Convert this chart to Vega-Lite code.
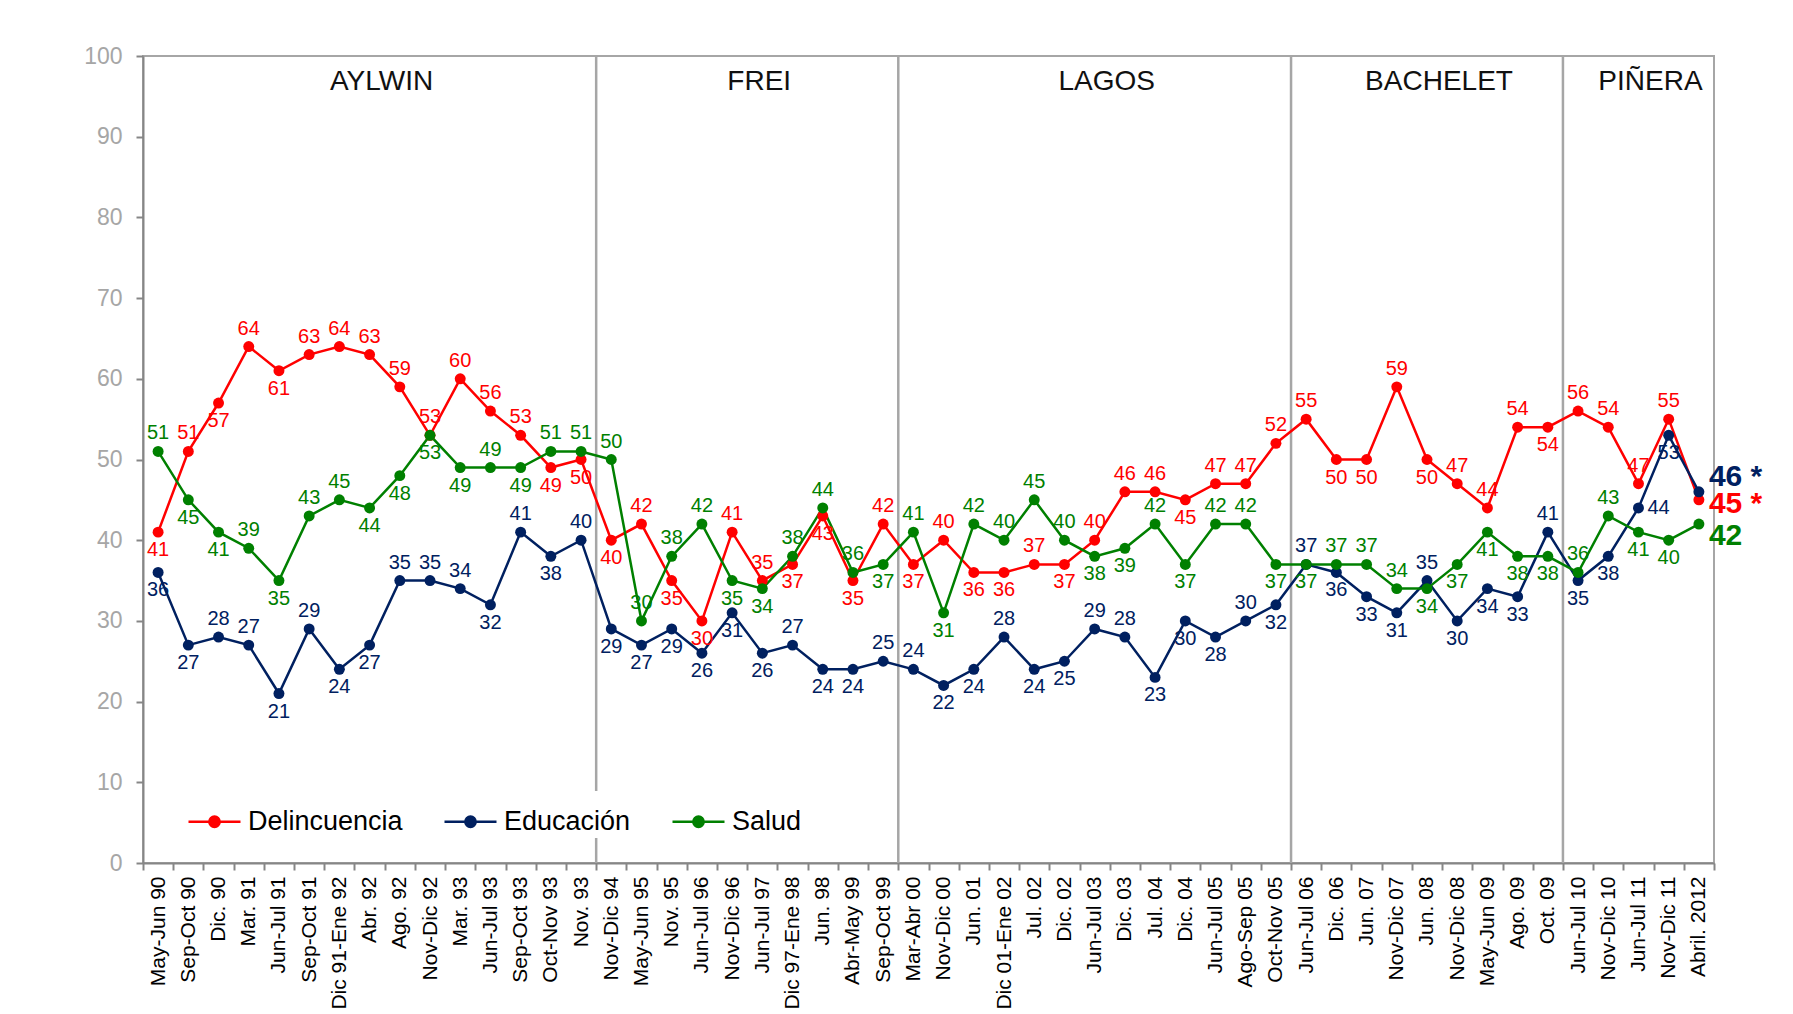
{
  "$schema": "https://vega.github.io/schema/vega-lite/v6.json",
  "width": 1571,
  "height": 807,
  "autosize": {"type": "none"},
  "padding": {"left": 143, "top": 56, "right": 79, "bottom": 151},
  "background": "white",
  "config": {
    "view": {"stroke": "#a6a6a6", "strokeWidth": 2},
    "font": "Liberation Sans",
    "legend": {
      "orient": "none",
      "legendX": 41,
      "legendY": 735,
      "direction": "horizontal",
      "title": null,
      "symbolType": "M-1,0L1,0M-0.2,0A0.2,0.2,0,1,0,0.2,0A0.2,0.2,0,1,0,-0.2,0Z",
      "symbolSize": 2704,
      "symbolStrokeWidth": 2.5,
      "labelFontSize": 27,
      "labelFont": "Liberation Sans",
      "labelColor": "black",
      "labelOffset": 6,
      "columnPadding": 36,
      "fillColor": "white",
      "padding": 3
    }
  },
  "datasets": {
    "encuesta": [
      {"n":1,"periodo":"May-Jun 90","serie":"Delincuencia","valor":41},
      {"n":2,"periodo":"Sep-Oct 90","serie":"Delincuencia","valor":51},
      {"n":3,"periodo":"Dic. 90","serie":"Delincuencia","valor":57},
      {"n":4,"periodo":"Mar. 91","serie":"Delincuencia","valor":64},
      {"n":5,"periodo":"Jun-Jul 91","serie":"Delincuencia","valor":61},
      {"n":6,"periodo":"Sep-Oct 91","serie":"Delincuencia","valor":63},
      {"n":7,"periodo":"Dic 91-Ene 92","serie":"Delincuencia","valor":64},
      {"n":8,"periodo":"Abr. 92","serie":"Delincuencia","valor":63},
      {"n":9,"periodo":"Ago. 92","serie":"Delincuencia","valor":59},
      {"n":10,"periodo":"Nov-Dic 92","serie":"Delincuencia","valor":53},
      {"n":11,"periodo":"Mar. 93","serie":"Delincuencia","valor":60},
      {"n":12,"periodo":"Jun-Jul 93","serie":"Delincuencia","valor":56},
      {"n":13,"periodo":"Sep-Oct 93","serie":"Delincuencia","valor":53},
      {"n":14,"periodo":"Oct-Nov 93","serie":"Delincuencia","valor":49},
      {"n":15,"periodo":"Nov. 93","serie":"Delincuencia","valor":50},
      {"n":16,"periodo":"Nov-Dic 94","serie":"Delincuencia","valor":40},
      {"n":17,"periodo":"May-Jun 95","serie":"Delincuencia","valor":42},
      {"n":18,"periodo":"Nov. 95","serie":"Delincuencia","valor":35},
      {"n":19,"periodo":"Jun-Jul 96","serie":"Delincuencia","valor":30},
      {"n":20,"periodo":"Nov-Dic 96","serie":"Delincuencia","valor":41},
      {"n":21,"periodo":"Jun-Jul 97","serie":"Delincuencia","valor":35},
      {"n":22,"periodo":"Dic 97-Ene 98","serie":"Delincuencia","valor":37},
      {"n":23,"periodo":"Jun. 98","serie":"Delincuencia","valor":43},
      {"n":24,"periodo":"Abr-May 99","serie":"Delincuencia","valor":35},
      {"n":25,"periodo":"Sep-Oct 99","serie":"Delincuencia","valor":42},
      {"n":26,"periodo":"Mar-Abr 00","serie":"Delincuencia","valor":37},
      {"n":27,"periodo":"Nov-Dic 00","serie":"Delincuencia","valor":40},
      {"n":28,"periodo":"Jun. 01","serie":"Delincuencia","valor":36},
      {"n":29,"periodo":"Dic 01-Ene 02","serie":"Delincuencia","valor":36},
      {"n":30,"periodo":"Jul. 02","serie":"Delincuencia","valor":37},
      {"n":31,"periodo":"Dic. 02","serie":"Delincuencia","valor":37},
      {"n":32,"periodo":"Jun-Jul 03","serie":"Delincuencia","valor":40},
      {"n":33,"periodo":"Dic. 03","serie":"Delincuencia","valor":46},
      {"n":34,"periodo":"Jul. 04","serie":"Delincuencia","valor":46},
      {"n":35,"periodo":"Dic. 04","serie":"Delincuencia","valor":45},
      {"n":36,"periodo":"Jun-Jul 05","serie":"Delincuencia","valor":47},
      {"n":37,"periodo":"Ago-Sep 05","serie":"Delincuencia","valor":47},
      {"n":38,"periodo":"Oct-Nov 05","serie":"Delincuencia","valor":52},
      {"n":39,"periodo":"Jun-Jul 06","serie":"Delincuencia","valor":55},
      {"n":40,"periodo":"Dic. 06","serie":"Delincuencia","valor":50},
      {"n":41,"periodo":"Jun. 07","serie":"Delincuencia","valor":50},
      {"n":42,"periodo":"Nov-Dic 07","serie":"Delincuencia","valor":59},
      {"n":43,"periodo":"Jun. 08","serie":"Delincuencia","valor":50},
      {"n":44,"periodo":"Nov-Dic 08","serie":"Delincuencia","valor":47},
      {"n":45,"periodo":"May-Jun 09","serie":"Delincuencia","valor":44},
      {"n":46,"periodo":"Ago. 09","serie":"Delincuencia","valor":54},
      {"n":47,"periodo":"Oct. 09","serie":"Delincuencia","valor":54},
      {"n":48,"periodo":"Jun-Jul 10","serie":"Delincuencia","valor":56},
      {"n":49,"periodo":"Nov-Dic 10","serie":"Delincuencia","valor":54},
      {"n":50,"periodo":"Jun-Jul 11","serie":"Delincuencia","valor":47},
      {"n":51,"periodo":"Nov-Dic 11","serie":"Delincuencia","valor":55},
      {"n":52,"periodo":"Abril. 2012","serie":"Delincuencia","valor":45},
      {"n":1,"periodo":"May-Jun 90","serie":"Educación","valor":36},
      {"n":2,"periodo":"Sep-Oct 90","serie":"Educación","valor":27},
      {"n":3,"periodo":"Dic. 90","serie":"Educación","valor":28},
      {"n":4,"periodo":"Mar. 91","serie":"Educación","valor":27},
      {"n":5,"periodo":"Jun-Jul 91","serie":"Educación","valor":21},
      {"n":6,"periodo":"Sep-Oct 91","serie":"Educación","valor":29},
      {"n":7,"periodo":"Dic 91-Ene 92","serie":"Educación","valor":24},
      {"n":8,"periodo":"Abr. 92","serie":"Educación","valor":27},
      {"n":9,"periodo":"Ago. 92","serie":"Educación","valor":35},
      {"n":10,"periodo":"Nov-Dic 92","serie":"Educación","valor":35},
      {"n":11,"periodo":"Mar. 93","serie":"Educación","valor":34},
      {"n":12,"periodo":"Jun-Jul 93","serie":"Educación","valor":32},
      {"n":13,"periodo":"Sep-Oct 93","serie":"Educación","valor":41},
      {"n":14,"periodo":"Oct-Nov 93","serie":"Educación","valor":38},
      {"n":15,"periodo":"Nov. 93","serie":"Educación","valor":40},
      {"n":16,"periodo":"Nov-Dic 94","serie":"Educación","valor":29},
      {"n":17,"periodo":"May-Jun 95","serie":"Educación","valor":27},
      {"n":18,"periodo":"Nov. 95","serie":"Educación","valor":29},
      {"n":19,"periodo":"Jun-Jul 96","serie":"Educación","valor":26},
      {"n":20,"periodo":"Nov-Dic 96","serie":"Educación","valor":31},
      {"n":21,"periodo":"Jun-Jul 97","serie":"Educación","valor":26},
      {"n":22,"periodo":"Dic 97-Ene 98","serie":"Educación","valor":27},
      {"n":23,"periodo":"Jun. 98","serie":"Educación","valor":24},
      {"n":24,"periodo":"Abr-May 99","serie":"Educación","valor":24},
      {"n":25,"periodo":"Sep-Oct 99","serie":"Educación","valor":25},
      {"n":26,"periodo":"Mar-Abr 00","serie":"Educación","valor":24},
      {"n":27,"periodo":"Nov-Dic 00","serie":"Educación","valor":22},
      {"n":28,"periodo":"Jun. 01","serie":"Educación","valor":24},
      {"n":29,"periodo":"Dic 01-Ene 02","serie":"Educación","valor":28},
      {"n":30,"periodo":"Jul. 02","serie":"Educación","valor":24},
      {"n":31,"periodo":"Dic. 02","serie":"Educación","valor":25},
      {"n":32,"periodo":"Jun-Jul 03","serie":"Educación","valor":29},
      {"n":33,"periodo":"Dic. 03","serie":"Educación","valor":28},
      {"n":34,"periodo":"Jul. 04","serie":"Educación","valor":23},
      {"n":35,"periodo":"Dic. 04","serie":"Educación","valor":30},
      {"n":36,"periodo":"Jun-Jul 05","serie":"Educación","valor":28},
      {"n":37,"periodo":"Ago-Sep 05","serie":"Educación","valor":30},
      {"n":38,"periodo":"Oct-Nov 05","serie":"Educación","valor":32},
      {"n":39,"periodo":"Jun-Jul 06","serie":"Educación","valor":37},
      {"n":40,"periodo":"Dic. 06","serie":"Educación","valor":36},
      {"n":41,"periodo":"Jun. 07","serie":"Educación","valor":33},
      {"n":42,"periodo":"Nov-Dic 07","serie":"Educación","valor":31},
      {"n":43,"periodo":"Jun. 08","serie":"Educación","valor":35},
      {"n":44,"periodo":"Nov-Dic 08","serie":"Educación","valor":30},
      {"n":45,"periodo":"May-Jun 09","serie":"Educación","valor":34},
      {"n":46,"periodo":"Ago. 09","serie":"Educación","valor":33},
      {"n":47,"periodo":"Oct. 09","serie":"Educación","valor":41},
      {"n":48,"periodo":"Jun-Jul 10","serie":"Educación","valor":35},
      {"n":49,"periodo":"Nov-Dic 10","serie":"Educación","valor":38},
      {"n":50,"periodo":"Jun-Jul 11","serie":"Educación","valor":44},
      {"n":51,"periodo":"Nov-Dic 11","serie":"Educación","valor":53},
      {"n":52,"periodo":"Abril. 2012","serie":"Educación","valor":46},
      {"n":1,"periodo":"May-Jun 90","serie":"Salud","valor":51},
      {"n":2,"periodo":"Sep-Oct 90","serie":"Salud","valor":45},
      {"n":3,"periodo":"Dic. 90","serie":"Salud","valor":41},
      {"n":4,"periodo":"Mar. 91","serie":"Salud","valor":39},
      {"n":5,"periodo":"Jun-Jul 91","serie":"Salud","valor":35},
      {"n":6,"periodo":"Sep-Oct 91","serie":"Salud","valor":43},
      {"n":7,"periodo":"Dic 91-Ene 92","serie":"Salud","valor":45},
      {"n":8,"periodo":"Abr. 92","serie":"Salud","valor":44},
      {"n":9,"periodo":"Ago. 92","serie":"Salud","valor":48},
      {"n":10,"periodo":"Nov-Dic 92","serie":"Salud","valor":53},
      {"n":11,"periodo":"Mar. 93","serie":"Salud","valor":49},
      {"n":12,"periodo":"Jun-Jul 93","serie":"Salud","valor":49},
      {"n":13,"periodo":"Sep-Oct 93","serie":"Salud","valor":49},
      {"n":14,"periodo":"Oct-Nov 93","serie":"Salud","valor":51},
      {"n":15,"periodo":"Nov. 93","serie":"Salud","valor":51},
      {"n":16,"periodo":"Nov-Dic 94","serie":"Salud","valor":50},
      {"n":17,"periodo":"May-Jun 95","serie":"Salud","valor":30},
      {"n":18,"periodo":"Nov. 95","serie":"Salud","valor":38},
      {"n":19,"periodo":"Jun-Jul 96","serie":"Salud","valor":42},
      {"n":20,"periodo":"Nov-Dic 96","serie":"Salud","valor":35},
      {"n":21,"periodo":"Jun-Jul 97","serie":"Salud","valor":34},
      {"n":22,"periodo":"Dic 97-Ene 98","serie":"Salud","valor":38},
      {"n":23,"periodo":"Jun. 98","serie":"Salud","valor":44},
      {"n":24,"periodo":"Abr-May 99","serie":"Salud","valor":36},
      {"n":25,"periodo":"Sep-Oct 99","serie":"Salud","valor":37},
      {"n":26,"periodo":"Mar-Abr 00","serie":"Salud","valor":41},
      {"n":27,"periodo":"Nov-Dic 00","serie":"Salud","valor":31},
      {"n":28,"periodo":"Jun. 01","serie":"Salud","valor":42},
      {"n":29,"periodo":"Dic 01-Ene 02","serie":"Salud","valor":40},
      {"n":30,"periodo":"Jul. 02","serie":"Salud","valor":45},
      {"n":31,"periodo":"Dic. 02","serie":"Salud","valor":40},
      {"n":32,"periodo":"Jun-Jul 03","serie":"Salud","valor":38},
      {"n":33,"periodo":"Dic. 03","serie":"Salud","valor":39},
      {"n":34,"periodo":"Jul. 04","serie":"Salud","valor":42},
      {"n":35,"periodo":"Dic. 04","serie":"Salud","valor":37},
      {"n":36,"periodo":"Jun-Jul 05","serie":"Salud","valor":42},
      {"n":37,"periodo":"Ago-Sep 05","serie":"Salud","valor":42},
      {"n":38,"periodo":"Oct-Nov 05","serie":"Salud","valor":37},
      {"n":39,"periodo":"Jun-Jul 06","serie":"Salud","valor":37},
      {"n":40,"periodo":"Dic. 06","serie":"Salud","valor":37},
      {"n":41,"periodo":"Jun. 07","serie":"Salud","valor":37},
      {"n":42,"periodo":"Nov-Dic 07","serie":"Salud","valor":34},
      {"n":43,"periodo":"Jun. 08","serie":"Salud","valor":34},
      {"n":44,"periodo":"Nov-Dic 08","serie":"Salud","valor":37},
      {"n":45,"periodo":"May-Jun 09","serie":"Salud","valor":41},
      {"n":46,"periodo":"Ago. 09","serie":"Salud","valor":38},
      {"n":47,"periodo":"Oct. 09","serie":"Salud","valor":38},
      {"n":48,"periodo":"Jun-Jul 10","serie":"Salud","valor":36},
      {"n":49,"periodo":"Nov-Dic 10","serie":"Salud","valor":43},
      {"n":50,"periodo":"Jun-Jul 11","serie":"Salud","valor":41},
      {"n":51,"periodo":"Nov-Dic 11","serie":"Salud","valor":40},
      {"n":52,"periodo":"Abril. 2012","serie":"Salud","valor":42}
    ],
    "cortes": [
      {"periodo": "Nov-Dic 94"},
      {"periodo": "Mar-Abr 00"},
      {"periodo": "Jun-Jul 06"},
      {"periodo": "Jun-Jul 10"}
    ],
    "presidentes": [
      {"presidente": "AYLWIN", "periodo": "Abr. 92"},
      {"presidente": "FREI", "periodo": "Jun-Jul 97"},
      {"presidente": "LAGOS", "periodo": "Jun-Jul 03"},
      {"presidente": "BACHELET", "periodo": "Jun. 08"},
      {"presidente": "PIÑERA", "periodo": "Jun-Jul 11"}
    ],
    "finales": [
      {"periodo": "Abril. 2012", "serie": "Educación", "valor": 46, "texto": "46 *"},
      {"periodo": "Abril. 2012", "serie": "Delincuencia", "valor": 45, "texto": "45 *"},
      {"periodo": "Abril. 2012", "serie": "Salud", "valor": 42, "texto": "42"}
    ]
  },
  "layer": [
    {
      "data": {"name": "cortes"},
      "mark": {"type": "rule", "color": "#a6a6a6", "strokeWidth": 2.5},
      "encoding": {
        "x": {
          "field": "periodo",
          "type": "nominal",
          "bandPosition": 0,
          "scale": {
            "type": "band",
            "paddingInner": 0,
            "paddingOuter": 0,
            "domain": ["May-Jun 90","Sep-Oct 90","Dic. 90","Mar. 91","Jun-Jul 91","Sep-Oct 91","Dic 91-Ene 92","Abr. 92","Ago. 92","Nov-Dic 92","Mar. 93","Jun-Jul 93","Sep-Oct 93","Oct-Nov 93","Nov. 93","Nov-Dic 94","May-Jun 95","Nov. 95","Jun-Jul 96","Nov-Dic 96","Jun-Jul 97","Dic 97-Ene 98","Jun. 98","Abr-May 99","Sep-Oct 99","Mar-Abr 00","Nov-Dic 00","Jun. 01","Dic 01-Ene 02","Jul. 02","Dic. 02","Jun-Jul 03","Dic. 03","Jul. 04","Dic. 04","Jun-Jul 05","Ago-Sep 05","Oct-Nov 05","Jun-Jul 06","Dic. 06","Jun. 07","Nov-Dic 07","Jun. 08","Nov-Dic 08","May-Jun 09","Ago. 09","Oct. 09","Jun-Jul 10","Nov-Dic 10","Jun-Jul 11","Nov-Dic 11","Abril. 2012"]
          },
          "axis": {
            "title": null,
            "labelAngle": -90,
            "labelFont": "Liberation Sans",
            "labelFontSize": 21,
            "labelColor": "black",
            "labelOverlap": false,
            "labelLimit": 300,
            "labelPadding": 6,
            "tickBand": "extent",
            "tickSize": 7,
            "tickWidth": 2,
            "tickColor": "#868686",
            "domainColor": "#868686",
            "domainWidth": 2,
            "grid": false
          }
        }
      }
    },
    {
      "data": {"name": "presidentes"},
      "transform": [{"filter": "datum.presidente != 'FREI'"}],
      "mark": {"type": "text", "fontSize": 28, "font": "Liberation Sans", "color": "#111111", "align": "center", "baseline": "middle", "dx": 12, "dy": 26},
      "encoding": {
        "x": {"field": "periodo", "type": "nominal", "bandPosition": 0.5},
        "y": {"datum": 100},
        "text": {"field": "presidente"}
      }
    },
    {
      "data": {"name": "presidentes"},
      "transform": [{"filter": "datum.presidente == 'FREI'"}],
      "mark": {"type": "text", "fontSize": 28, "font": "Liberation Sans", "color": "#111111", "align": "center", "baseline": "middle", "dx": 12, "dy": 26},
      "encoding": {
        "x": {"field": "periodo", "type": "nominal", "bandPosition": 0},
        "y": {"datum": 100},
        "text": {"field": "presidente"}
      }
    },
    {
      "data": {"name": "encuesta"},
      "mark": {"type": "line", "strokeWidth": 2.5},
      "encoding": {
        "x": {"field": "periodo", "type": "nominal", "bandPosition": 0.5},
        "y": {
          "field": "valor",
          "type": "quantitative",
          "scale": {"domain": [0, 100], "nice": false, "zero": true},
          "axis": {
            "title": null,
            "values": [0, 10, 20, 30, 40, 50, 60, 70, 80, 90, 100],
            "grid": false,
            "labelFont": "Liberation Sans",
            "labelFontSize": 23,
            "labelColor": "#a6a6a6",
            "labelPadding": 14,
            "tickSize": 7,
            "tickWidth": 2,
            "tickColor": "#868686",
            "domainColor": "#868686",
            "domainWidth": 2
          }
        },
        "color": {
          "field": "serie",
          "type": "nominal",
          "scale": {"domain": ["Delincuencia", "Educación", "Salud"], "range": ["#ff0000", "#002060", "#008000"]}
        },
        "detail": {"field": "serie"}
      }
    },
    {
      "data": {"name": "encuesta"},
      "mark": {"type": "point", "filled": true, "size": 120, "opacity": 1},
      "encoding": {
        "x": {"field": "periodo", "type": "nominal", "bandPosition": 0.5},
        "y": {"field": "valor", "type": "quantitative"},
        "color": {"field": "serie", "type": "nominal"}
      }
    },
    {
      "data": {"name": "encuesta"},
      "transform": [
        {
          "window": [
            {"op": "lag", "field": "valor", "param": 1, "as": "ant"},
            {"op": "lead", "field": "valor", "param": 1, "as": "sig"}
          ],
          "groupby": ["serie"],
          "sort": [{"field": "n", "order": "ascending"}]
        },
        {
          "joinaggregate": [
            {"op": "max", "field": "valor", "as": "vmax"},
            {"op": "min", "field": "valor", "as": "vmin"},
            {"op": "sum", "field": "valor", "as": "vsum"}
          ],
          "groupby": ["periodo"]
        },
        {
          "window": [{"op": "row_number", "as": "rango"}],
          "groupby": ["periodo"],
          "sort": [{"field": "valor", "order": "descending"}]
        },
        {"calculate": "datum.ant == null ? datum.sig : (datum.sig == null ? datum.ant : (datum.ant + datum.sig) / 2)", "as": "ref"},
        {"calculate": "datum.vsum - datum.vmax - datum.vmin", "as": "vmed"},
        {"calculate": "datum.rango == 1 ? 100 : (datum.rango == 2 ? datum.vmax - datum.valor : datum.vmed - datum.valor)", "as": "sobre"},
        {"calculate": "datum.rango == 1 ? datum.valor - datum.vmed : (datum.rango == 2 ? datum.valor - datum.vmin : 100)", "as": "bajo"},
        {"calculate": "datum.rango == 1 ? ((datum.valor < datum.ref && datum.bajo >= 8) ? 'abajo' : 'arriba') : (datum.rango == 3 ? ((datum.valor >= datum.ref && datum.sobre >= 8) ? 'arriba' : 'abajo') : ((datum.valor >= datum.ref && datum.sobre >= 4) ? 'arriba' : ((datum.valor < datum.ref && datum.bajo >= 4) ? 'abajo' : ((datum.sobre >= 4 && datum.sobre >= datum.bajo) ? 'arriba' : (datum.bajo >= 4 ? 'abajo' : 'derecha')))))", "as": "lugar"},
        {"filter": "datum.n < 52"}
      ],
      "layer": [
        {
          "transform": [{"filter": "datum.lugar == 'arriba'"}],
          "mark": {"type": "text", "fontSize": 20, "font": "Liberation Sans", "align": "center", "baseline": "bottom", "dy": -8},
          "encoding": {
            "x": {"field": "periodo", "type": "nominal", "bandPosition": 0.5},
            "y": {"field": "valor", "type": "quantitative"},
            "text": {"field": "valor", "type": "quantitative"},
            "color": {"field": "serie", "type": "nominal"}
          }
        },
        {
          "transform": [{"filter": "datum.lugar == 'abajo'"}],
          "mark": {"type": "text", "fontSize": 20, "font": "Liberation Sans", "align": "center", "baseline": "top", "dy": 8},
          "encoding": {
            "x": {"field": "periodo", "type": "nominal", "bandPosition": 0.5},
            "y": {"field": "valor", "type": "quantitative"},
            "text": {"field": "valor", "type": "quantitative"},
            "color": {"field": "serie", "type": "nominal"}
          }
        },
        {
          "transform": [{"filter": "datum.lugar == 'derecha'"}],
          "mark": {"type": "text", "fontSize": 20, "font": "Liberation Sans", "align": "left", "baseline": "middle", "dx": 9},
          "encoding": {
            "x": {"field": "periodo", "type": "nominal", "bandPosition": 0.5},
            "y": {"field": "valor", "type": "quantitative"},
            "text": {"field": "valor", "type": "quantitative"},
            "color": {"field": "serie", "type": "nominal"}
          }
        }
      ]
    },
    {
      "data": {"name": "finales"},
      "transform": [{"filter": "datum.serie == 'Educación'"}],
      "mark": {"type": "text", "fontSize": 30, "fontWeight": "bold", "font": "Liberation Sans", "align": "left", "baseline": "middle", "dx": 10, "dy": -15},
      "encoding": {
        "x": {"field": "periodo", "type": "nominal", "bandPosition": 0.5},
        "y": {"field": "valor", "type": "quantitative"},
        "text": {"field": "texto"},
        "color": {"field": "serie", "type": "nominal"}
      }
    },
    {
      "data": {"name": "finales"},
      "transform": [{"filter": "datum.serie == 'Delincuencia'"}],
      "mark": {"type": "text", "fontSize": 30, "fontWeight": "bold", "font": "Liberation Sans", "align": "left", "baseline": "middle", "dx": 10, "dy": 4},
      "encoding": {
        "x": {"field": "periodo", "type": "nominal", "bandPosition": 0.5},
        "y": {"field": "valor", "type": "quantitative"},
        "text": {"field": "texto"},
        "color": {"field": "serie", "type": "nominal"}
      }
    },
    {
      "data": {"name": "finales"},
      "transform": [{"filter": "datum.serie == 'Salud'"}],
      "mark": {"type": "text", "fontSize": 30, "fontWeight": "bold", "font": "Liberation Sans", "align": "left", "baseline": "middle", "dx": 10, "dy": 12},
      "encoding": {
        "x": {"field": "periodo", "type": "nominal", "bandPosition": 0.5},
        "y": {"field": "valor", "type": "quantitative"},
        "text": {"field": "texto"},
        "color": {"field": "serie", "type": "nominal"}
      }
    }
  ]
}
